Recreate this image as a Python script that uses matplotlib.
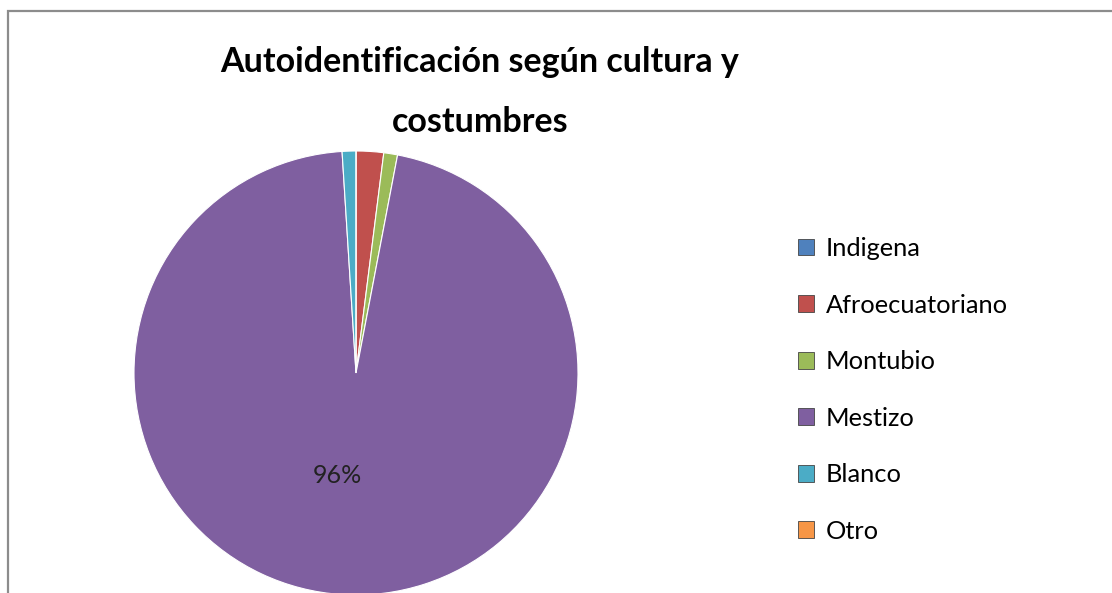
import matplotlib.pyplot as plt
from matplotlib.patches import Rectangle, Patch

# Data
categories = ["Indigena", "Afroecuatoriano", "Montubio", "Mestizo", "Blanco", "Otro"]
values = [0, 2, 1, 96, 1, 0]
colors = ["#4F81BD", "#C0504D", "#9BBB59", "#7F5FA0", "#4BACC6", "#F79646"]

W, H = 1112, 593
plt.rcParams['font.family'] = ['Lato', 'DejaVu Sans']

fig = plt.figure(figsize=(W / 100, H / 100), dpi=100)

# chart frame (top and left edge visible, rest cut off)
fig.patches.append(Rectangle((7.5 / W, -0.2), 1.5, 1.2 - 10.5 / H,
                             transform=fig.transFigure, fill=False,
                             edgecolor="#8c8c8c", linewidth=1.6))

# pie axes: center (356, 373) px, radius 222 px
r = 222
cx, cy = 356, 373
ax = fig.add_axes([(cx - r) / W, (H - cy - r) / H, 2 * r / W, 2 * r / H])

def pct(p):
    return f"{p:.0f}%" if p > 5 else ""

wedges, texts, autotexts = ax.pie(values, colors=colors, startangle=90,
                                  counterclock=False, autopct=pct,
                                  pctdistance=0.47, radius=1.0,
                                  wedgeprops=dict(edgecolor="white", linewidth=0.8),
                                  textprops=dict(fontsize=18, color="#222222"))
# Excel puts the label a bit further left than the wedge centroid
autotexts[3].set_position((-0.085, -0.46))
ax.set_xlim(-1, 1)
ax.set_ylim(-1, 1)
ax.set_aspect("equal")

fig.text(480 / W, 1 - 92 / H, "Autoidentificación según cultura y\ncostumbres",
         ha="center", va="center", fontsize=24.5, fontweight="bold",
         linespacing=2.05)

handles = [Patch(facecolor=c, edgecolor="#444444", linewidth=0.6) for c in colors]
fig.legend(handles, categories, loc="upper left",
           bbox_to_anchor=(798 / W, 1 - 237 / H), frameon=False,
           fontsize=18.3, handlelength=0.64, handleheight=0.64,
           handletextpad=0.44, labelspacing=1.32, borderpad=0,
           borderaxespad=0)

fig.savefig("out.png", dpi=100)
